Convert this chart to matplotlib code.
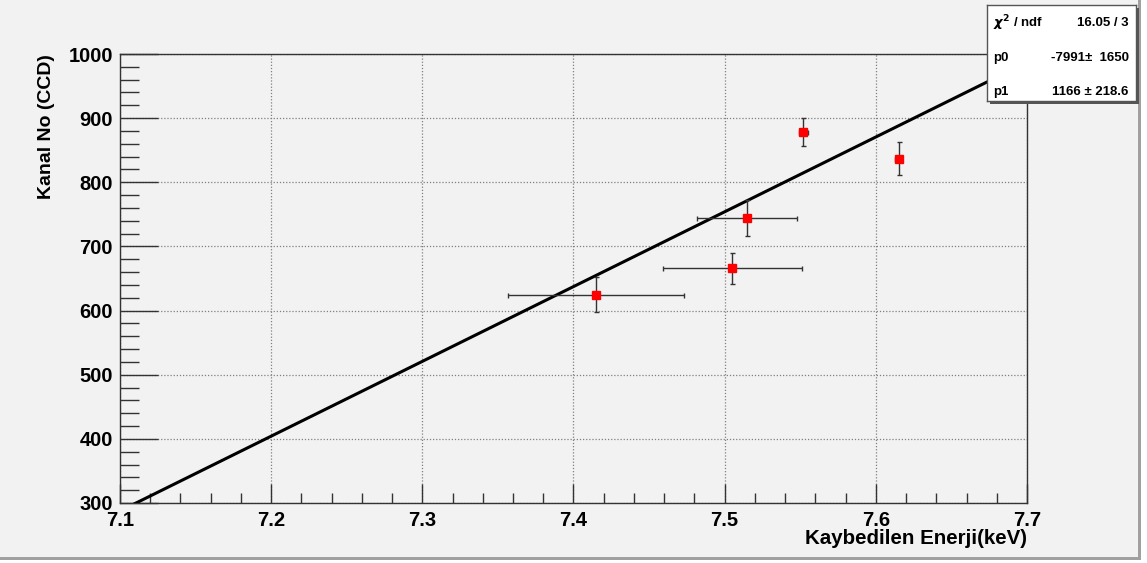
#!/usr/bin/env python3
"""Kanal No (CCD) vs energy loss, with the linear fit p0 + p1*E."""

import matplotlib
import matplotlib.pyplot as plt
import numpy as np
from matplotlib.patches import Rectangle
from matplotlib.ticker import MultipleLocator

matplotlib.use("Agg")

# measured points
energy = [7.415, 7.505, 7.515, 7.552, 7.615]
energy_err = [0.058, 0.046, 0.033, 0.003, 0.002]
channel = [625, 666, 744, 879, 837]
channel_err = [27, 24, 28, 22, 26]

# linear fit result
p0, p0_err = -7991, 1650
p1, p1_err = 1166, 218.6
chi2, ndf = 16.05, 3

BG = "#f2f2f2"
W, H = 1147, 563

plt.rcParams["font.family"] = ["Liberation Sans", "DejaVu Sans"]
plt.rcParams["font.weight"] = "bold"

fig = plt.figure(figsize=(W / 100, H / 100), dpi=100, facecolor="white")

# canvas background with the darker bevel on the right and bottom edges
fig.patches.append(Rectangle((0, 3 / H), 1141 / W, 1 - 3 / H, transform=fig.transFigure,
                             facecolor=BG, edgecolor="none", zorder=-10))
fig.patches.append(Rectangle((0, 3 / H), 1141 / W, 3 / H, transform=fig.transFigure,
                             facecolor="#a0a0a0", edgecolor="none", zorder=-9))
fig.patches.append(Rectangle((1138 / W, 3 / H), 3 / W, 1 - 3 / H, transform=fig.transFigure,
                             facecolor="#a0a0a0", edgecolor="none", zorder=-9))

ax = fig.add_axes([120 / W, 60 / H, 907 / W, 449 / H])
ax.set_facecolor(BG)
ax.set_xlim(7.1, 7.7)
ax.set_ylim(300, 1000)

ax.xaxis.set_minor_locator(MultipleLocator(0.02))
ax.yaxis.set_major_locator(MultipleLocator(100))
ax.yaxis.set_minor_locator(MultipleLocator(20))
xt = np.arange(7.1, 7.71, 0.1)
ax.set_xticks(xt)
ax.set_xticklabels([f"{v:.1f}" for v in xt])

ax.tick_params(axis="x", which="major", direction="in", length=13.5, width=1,
               color="#333333", labelsize=14.5, pad=6)
ax.tick_params(axis="x", which="minor", direction="in", length=7, width=1, color="#333333")
ax.tick_params(axis="y", which="major", direction="in", length=27, width=1,
               color="#333333", labelsize=14.5, pad=5)
ax.tick_params(axis="y", which="minor", direction="in", length=13.5, width=1, color="#333333")
for lab in ax.get_xticklabels() + ax.get_yticklabels():
    lab.set_fontweight("bold")

for sp in ax.spines.values():
    sp.set_color("#333333")
    sp.set_linewidth(1)

ax.grid(True, which="major", linestyle=(0, (1, 1.5)), color="#808080", linewidth=0.9)
ax.set_axisbelow(True)

ax.set_xlabel("Kaybedilen Enerji(keV)", fontsize=14.8, fontweight="bold",
              loc="right", labelpad=-1)
ax.set_ylabel("Kanal No (CCD)", fontsize=14, fontweight="bold",
              loc="top", labelpad=10)

# fit line
xf = np.linspace(7.1, 7.7, 200)
ax.plot(xf, p0 + p1 * xf, color="black", linewidth=2.2, zorder=3)

ax.errorbar(energy, channel, xerr=energy_err, yerr=channel_err, fmt="s",
            color="red", markersize=6, ecolor="#333333", elinewidth=1,
            capsize=1.8, capthick=1, zorder=4)

# stats box
sx0, sy0, sw, sh = 987, 5, 149, 96
fig.patches.append(Rectangle(((sx0 + 3) / W, (H - sy0 - sh - 3) / H), sw / W, sh / H,
                             transform=fig.transFigure, facecolor="#555555",
                             edgecolor="none", zorder=5))
sax = fig.add_axes([sx0 / W, (H - sy0 - sh) / H, sw / W, sh / H], zorder=6)
sax.set_facecolor("white")
sax.set_xticks([])
sax.set_yticks([])
for sp in sax.spines.values():
    sp.set_color("#555555")
    sp.set_linewidth(1)

rows = [
    (r"$\chi^2$ / ndf", f"{chi2:.2f} / {ndf}"),
    ("p0", f"{p0}\u00b1  {p0_err}"),
    ("p1", f"{p1} \u00b1 {p1_err}"),
]
for i, (name, val) in enumerate(rows):
    yy = 0.81 - i * 0.36
    sax.text(0.04, yy, name, fontsize=9.5, fontweight="bold", ha="left", va="center",
             transform=sax.transAxes)
    sax.text(0.95, yy, val, fontsize=9.5, fontweight="bold", ha="right", va="center",
             transform=sax.transAxes)

fig.savefig("out.png", dpi=100, facecolor="white")
